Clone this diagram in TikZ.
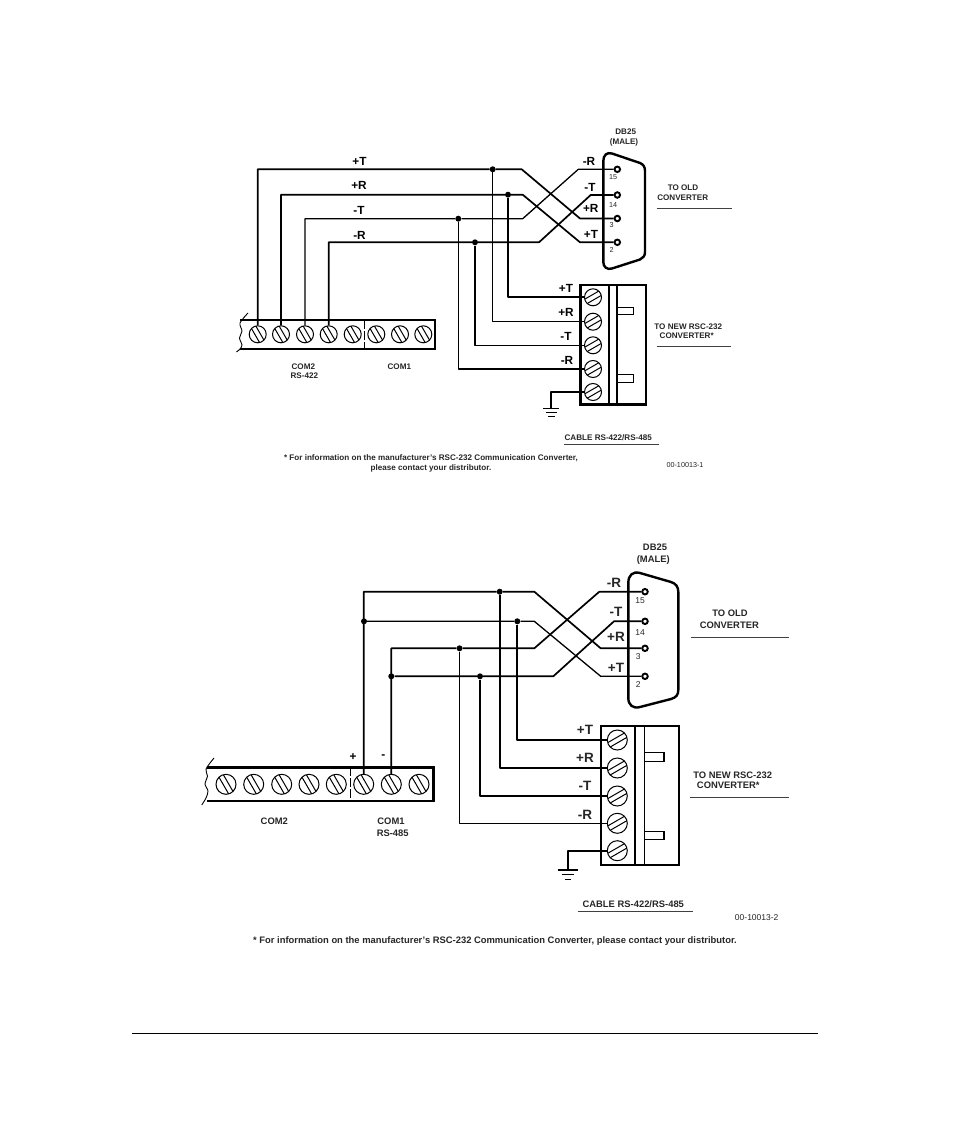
\documentclass[tikz,border=0pt]{standalone}
\usepackage{fontspec}
\setmainfont{Liberation Sans}
\usepackage{tikz}

\tikzset{
	wire/.style={line width=1.7pt, line join=round},
	drop/.style={line width=1.3pt, line join=round},
	body/.style={line width=2.4pt},
	divider/.style={line width=1.4pt},
	thinline/.style={line width=0.9pt},
	rule/.style={line width=1pt, black!75},
	dot/.style={circle, fill=black, inner sep=0pt, minimum size=6pt},
	pin/.style={circle, draw, line width=1.9pt, fill=white, inner sep=0pt, minimum size=5.5pt},
	screwa/.style={circle, draw, line width=1pt, fill=white, inner sep=0pt, minimum size=#1, path picture={
		\draw[line width=1pt, shift={(path picture bounding box.center)}] (-3.8,-11.6) -- (8.2,9.2) (-8.2,-9.2) -- (3.8,11.6);}},
	screwb/.style={circle, draw, line width=1pt, fill=white, inner sep=0pt, minimum size=#1, path picture={
		\draw[line width=1pt, shift={(path picture bounding box.center)}] (-9.2,8.2) -- (11.6,-3.8) (-11.6,3.8) -- (9.2,-8.2);}},
	lbl/.style={font=\bfseries\fontsize{11.8}{13}\selectfont, inner sep=0pt},
	lblb/.style={font=\bfseries\fontsize{13.5}{16}\selectfont, inner sep=0pt, black!85},
	small/.style={font=\bfseries\fontsize{8.1}{9}\selectfont, inner sep=0pt, black!85},
	big/.style={font=\bfseries\fontsize{9.4}{11}\selectfont, inner sep=0pt, black!85},
	num/.style={font=\fontsize{7.2}{8}\selectfont, inner sep=0pt, black!85},
	numb/.style={font=\fontsize{8.5}{10}\selectfont, inner sep=0pt, black!85}
}

\begin{document}
\begin{tikzpicture}[x=1pt, y=-1pt]
	\useasboundingbox (0,0) rectangle (954,1142);

	% upper drawing
	\draw [body] (240,320) -- (435,320) -- (435,349) -- (240,349);
	\draw [thinline] plot [smooth] coordinates {(248,313) (240,323) (242,331) (239.5,338) (242,345) (240,349) (236.5,352)};
	\draw [thinline, dash pattern=on 9pt off 2pt] (364.3,320) -- (364.3,349);
	\draw [body] (603.3,161) .. controls (603.3,155) and (607,152) .. (612,153.5) -- (640,163) .. controls (643.5,164.5) and (645,167) .. (645,171) -- (645,252) .. controls (645,256) and (643,258) .. (640,259.5) -- (612,268.5) .. controls (607,270) and (603.3,267) .. (603.3,262) -- cycle;

	\node at (257.7,334.3) [screwa=17pt] (ts1) {};
	\node at (281,334.3) [screwa=17pt] (ts2) {};
	\node at (305,334.3) [screwa=17pt] (ts3) {};
	\node at (328.7,334.3) [screwa=17pt] (ts4) {};
	\node at (352.7,334.3) [screwa=17pt] (ts5) {};
	\node at (376.3,334.3) [screwa=17pt] (ts6) {};
	\node at (400,334.3) [screwa=17pt] (ts7) {};
	\node at (423.3,334.3) [screwa=17pt] (ts8) {};

	\draw [body] (580.3,285) rectangle (646,404.3);
	\draw [divider] (609,285) -- (609,404.3);
	\draw [divider] (617,285) -- (617,404.3);
	\draw [divider] (617,307.3) -- (633.7,307.3) -- (633.7,314.7) -- (617,314.7);
	\draw [divider] (617,374.7) -- (633.7,374.7) -- (633.7,382.3) -- (617,382.3);

	\node at (593,297.3) [screwb=17pt] (tb1) {};
	\node at (593,321.7) [screwb=17pt] (tb2) {};
	\node at (593,345.3) [screwb=17pt] (tb3) {};
	\node at (593,369) [screwb=17pt] (tb4) {};
	\node at (593,392) [screwb=17pt] (tb5) {};

	\node at (617.3,169.3) [pin] (tp1) {};
	\node at (617.3,195) [pin] (tp2) {};
	\node at (617.3,218.5) [pin] (tp3) {};
	\node at (617.3,242.3) [pin] (tp4) {};

	\node at (492.7,169.3) [dot] (tj1) {};
	\node at (508,194.7) [dot] (tj2) {};
	\node at (458.3,218.7) [dot] (tj3) {};
	\node at (475,242.3) [dot] (tj4) {};

	\coordinate (ta1) at (521.7,169.3);
	\coordinate (ta2) at (580,218.5);
	\coordinate (tc1) at (522.7,194.7);
	\coordinate (tc2) at (580,242.3);
	\coordinate (te1) at (522.7,218.7);
	\coordinate (te2) at (578.3,169.3);
	\coordinate (tf1) at (539,242.3);
	\coordinate (tf2) at (590.7,195);
	\coordinate (tg) at (551,408.3);

	\draw [wire] (ts1.north) |- (tj1) -- (ta1) -- (ta2) -- (tp3);
	\draw [wire] (ts2.north) |- (tj2) -- (tc1) -- (tc2) -- (tp4);
	\draw [drop] (ts3.north) |- (tj3) -- (te1) -- (te2) -- (tp1);
	\draw [wire] (ts4.north) |- (tj4) -- (tf1) -- (tf2) -- (tp2);
	\draw [wire] (tj2) |- (tb1.west);
	\draw [drop] (tj1) |- (tb2.west);
	\draw [drop] (tj4) |- (tb3.west);
	\draw [drop] (tj3) |- (tb4.west);
	\draw [drop] (tb5.west) -| (tg);
	\draw [drop] (543,408.3) -- (559.3,408.3);
	\draw [drop] (545.5,412.5) -- (557,412.5);
	\draw [drop] (548,416.7) -- (554.5,416.7);

	\node at (359.5,161.5) [lbl] (tl1) {+T};
	\node at (359,185.5) [lbl] (tl2) {+R};
	\node at (359,210.5) [lbl] (tl3) {-T};
	\node at (359.5,235) [lbl] (tl4) {-R};
	\node at (589,161) [lbl] (tl5) {-R};
	\node at (590,187) [lbl] (tl6) {-T};
	\node at (590.7,208.7) [lbl] (tl7) {+R};
	\node at (591,234.7) [lbl] (tl8) {+T};
	\node at (566,288.3) [lbl] (tl9) {+T};
	\node at (566,312.3) [lbl] (tl10) {+R};
	\node at (566,336.7) [lbl] (tl11) {-T};
	\node at (567,360.7) [lbl] (tl12) {-R};

	\node at (613,177.3) [num] (tn1) {15};
	\node at (613,205) [num] (tn2) {14};
	\node at (611.7,225) [num] (tn3) {3};
	\node at (611.7,250.3) [num] (tn4) {2};

	\node at (625.7,131.7) [small] (tt1) {DB25};
	\node at (624,142) [small] (tt2) {(MALE)};
	\node at (683,188) [small] (tt3) {TO OLD};
	\node at (682.7,198) [small] (tt4) {CONVERTER};
	\node at (688.3,326.3) [small] (tt5) {TO NEW RSC-232};
	\node at (686.7,336) [small] (tt6) {CONVERTER*};
	\node at (608.3,437.3) [small] (tt7) {CABLE RS-422/RS-485};
	\node at (303.3,366.7) [small] (tt8) {COM2};
	\node at (304.3,376) [small] (tt9) {RS-422};
	\node at (399.3,366.7) [small] (tt10) {COM1};
	\node at (431,458) [small] (tt11) {* For information on the manufacturer's RSC-232 Communication Converter,};
	\node at (431,468) [small] (tt12) {please contact your distributor.};
	\node at (685,465.3) [num] (tt13) {00-10013-1};

	\draw [rule] (656.7,208.7) -- (731.7,208.7);
	\draw [rule] (656.7,346.3) -- (730.7,346.3);
	\draw [rule] (564.3,444) -- (659.3,444);

	% lower drawing
	\draw [body] (206.7,767.3) -- (433.3,767.3) -- (433.3,800.7) -- (206.7,800.7);
	\draw [thinline] plot [smooth] coordinates {(214,758) (206,769) (207.5,776) (205,784) (208,791) (206,798) (201.7,805)};
	\draw [thinline, dash pattern=on 9pt off 2pt] (350,767.3) -- (350,800.7);
	\draw [body] (628.3,583) .. controls (628.3,575) and (633,571) .. (640,573) -- (671,582) .. controls (676,583.5) and (678.3,587) .. (678.3,592) -- (678.3,690) .. controls (678.3,695) and (676,697.5) .. (671,699) -- (640,707) .. controls (633,709) and (628.3,705) .. (628.3,698) -- cycle;

	\node at (226,784.3) [screwa=20pt] (bs1) {};
	\node at (253.7,784.3) [screwa=20pt] (bs2) {};
	\node at (281.7,784.3) [screwa=20pt] (bs3) {};
	\node at (309,784.3) [screwa=20pt] (bs4) {};
	\node at (336.3,784.3) [screwa=20pt] (bs5) {};
	\node at (363.7,784.3) [screwa=20pt] (bs6) {};
	\node at (391.3,784.3) [screwa=20pt] (bs7) {};
	\node at (419,784.3) [screwa=20pt] (bs8) {};

	\draw [body] (601,726) rectangle (678.7,865);
	\draw [divider] (635,726) -- (635,865);
	\draw [divider] (644.7,726) -- (644.7,865);
	\draw [divider] (644.7,752.3) -- (664,752.3) -- (664,761.3) -- (644.7,761.3);
	\draw [divider] (644.7,831.3) -- (664,831.3) -- (664,839.7) -- (644.7,839.7);

	\node at (617.3,740) [screwb=20pt] (bb1) {};
	\node at (617.3,768) [screwb=20pt] (bb2) {};
	\node at (617.3,796) [screwb=20pt] (bb3) {};
	\node at (617.3,823.3) [screwb=20pt] (bb4) {};
	\node at (617.3,850.7) [screwb=20pt] (bb5) {};

	\node at (645,591.7) [pin] (bp1) {};
	\node at (645,621.3) [pin] (bp2) {};
	\node at (645,648.3) [pin] (bp3) {};
	\node at (645,676.3) [pin] (bp4) {};

	\node at (499.7,591.7) [dot] (bj1) {};
	\node at (517.3,621.3) [dot] (bj2) {};
	\node at (459.5,648.3) [dot] (bj3) {};
	\node at (480,676.3) [dot] (bj4) {};
	\node at (364,621.3) [dot] (bj5) {};
	\node at (391.3,676.3) [dot] (bj6) {};

	\coordinate (ba1) at (534.3,591.7);
	\coordinate (ba2) at (600.7,648.3);
	\coordinate (bc1) at (534.3,621.3);
	\coordinate (bc2) at (600.7,676.3);
	\coordinate (be1) at (534.3,648.3);
	\coordinate (be2) at (599.3,591.7);
	\coordinate (bf1) at (553.3,676.3);
	\coordinate (bf2) at (614,621.3);
	\coordinate (bg) at (568,870);

	\draw [wire] (bs6.north) |- (bj1) -- (ba1) -- (ba2) -- (bp3);
	\draw [drop] (bj5) -- (bj2) -- (bc1) -- (bc2) -- (bp4);
	\draw [wire] (bs7.north) |- (bj3) -- (be1) -- (be2) -- (bp1);
	\draw [wire] (bj6) -- (bj4) -- (bf1) -- (bf2) -- (bp2);
	\draw [wire] (bj2) |- (bb1.west);
	\draw [wire] (bj1) |- (bb2.west);
	\draw [wire] (bj4) |- (bb3.west);
	\draw [drop] (bj3) |- (bb4.west);
	\draw [wire] (bb5.west) -| (bg);
	\draw [drop] (557.7,870) -- (577.7,870);
	\draw [drop] (561.5,874.7) -- (574,874.7);
	\draw [drop] (565,879.3) -- (571,879.3);

	\node at (614,582.7) [lblb] (bl1) {-R};
	\node at (616,612) [lblb] (bl2) {-T};
	\node at (616,637.3) [lblb] (bl3) {+R};
	\node at (616,667.7) [lblb] (bl4) {+T};
	\node at (585,730.3) [lblb] (bl5) {+T};
	\node at (585,757.7) [lblb] (bl6) {+R};
	\node at (585,786.3) [lblb] (bl7) {-T};
	\node at (585,815.3) [lblb] (bl8) {-R};
	\node at (353,756.7) [lbl] (bl9) {+};
	\node at (383.3,757) [lbl] (bl10) {-};

	\node at (640,601) [numb] (bn1) {15};
	\node at (640,632.3) [numb] (bn2) {14};
	\node at (638.3,657) [numb] (bn3) {3};
	\node at (638.3,685) [numb] (bn4) {2};

	\node at (655,547) [big] (bt1) {DB25};
	\node at (653.3,560) [big] (bt2) {(MALE)};
	\node at (730,613.7) [big] (bt3) {TO OLD};
	\node at (729.3,625.3) [big] (bt4) {CONVERTER};
	\node at (732.7,775) [big] (bt5) {TO NEW RSC-232};
	\node at (728.3,785.3) [big] (bt6) {CONVERTER*};
	\node at (633.3,903.7) [big] (bt7) {CABLE RS-422/RS-485};
	\node at (274.3,821) [big] (bt8) {COM2};
	\node at (391,821) [big] (bt9) {COM1};
	\node at (392.7,833) [big] (bt10) {RS-485};
	\node at (495,941) [big] (bt11) {* For information on the manufacturer's RSC-232 Communication Converter, please contact your distributor.};
	\node at (756.7,917.7) [numb] (bt12) {00-10013-2};

	\draw [rule] (690.7,637.7) -- (789,637.7);
	\draw [rule] (690,797.7) -- (788.7,797.7);
	\draw [rule] (578.3,911) -- (693.3,911);

	% page rule
	\draw [line width=1pt] (132,1033) -- (818,1033);
\end{tikzpicture}
\end{document}
